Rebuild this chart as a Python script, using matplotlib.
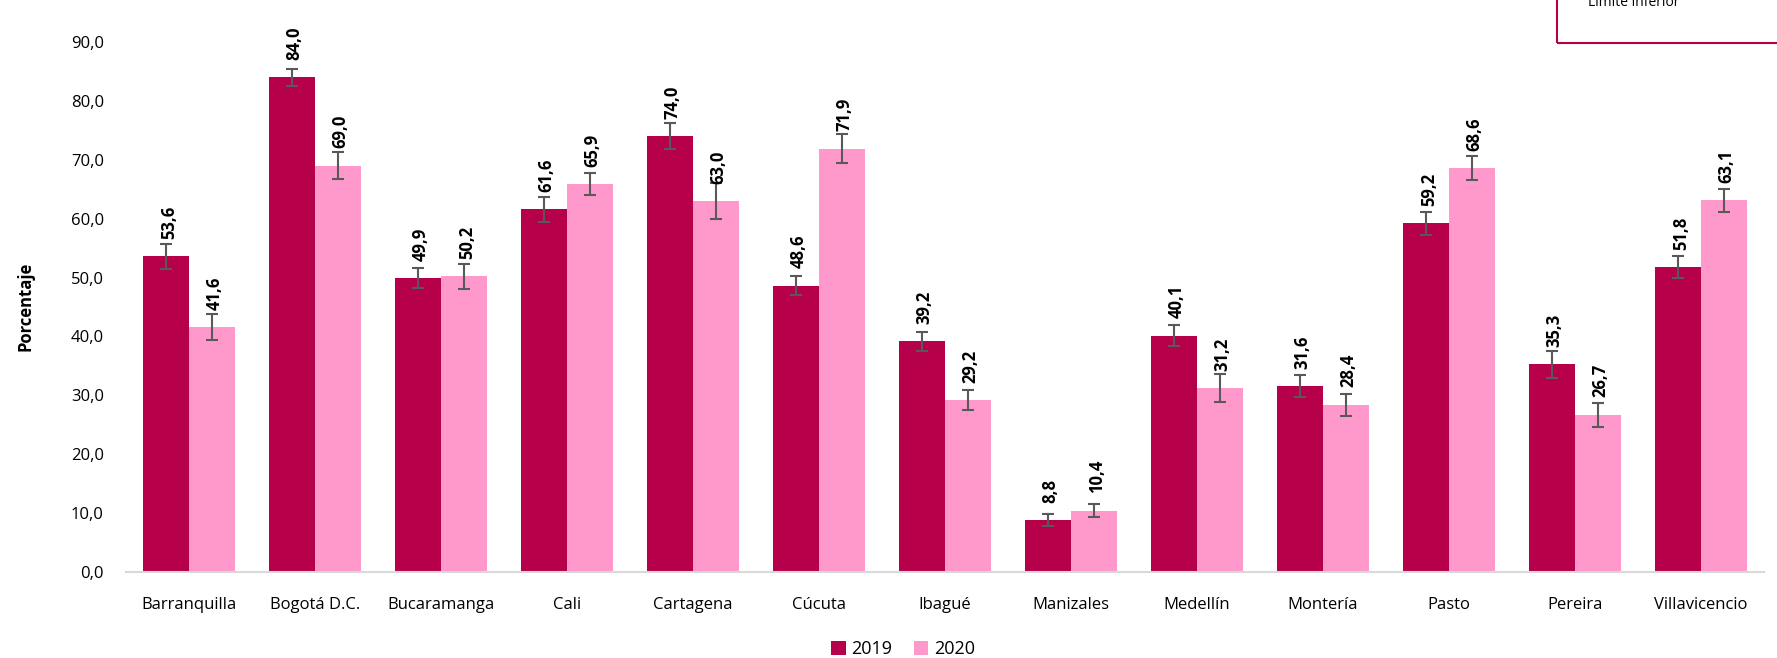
import numpy as np
import matplotlib
matplotlib.use("Agg")
import matplotlib.pyplot as plt
from matplotlib.patches import Rectangle
from matplotlib.ticker import FuncFormatter

ciudades = ["Barranquilla", "Bogotá D.C.", "Bucaramanga", "Cali", "Cartagena", "Cúcuta",
            "Ibagué", "Manizales", "Medellín", "Montería", "Pasto", "Pereira", "Villavicencio"]
v2019 = [53.6, 84.0, 49.9, 61.6, 74.0, 48.6, 39.2, 8.8, 40.1, 31.6, 59.2, 35.3, 51.8]
v2020 = [41.6, 69.0, 50.2, 65.9, 63.0, 71.9, 29.2, 10.4, 31.2, 28.4, 68.6, 26.7, 63.1]
# half-width of the confidence interval
e2019 = [2.1, 1.4, 1.7, 2.1, 2.2, 1.6, 1.6, 1.0, 1.8, 1.8, 1.9, 2.3, 1.8]
e2020 = [2.2, 2.3, 2.1, 1.9, 3.0, 2.4, 1.7, 1.1, 2.4, 1.9, 2.1, 2.0, 2.0]

c2019 = "#b7004a"
c2020 = "#ff99cc"

plt.rcParams["font.family"] = ["Open Sans", "DejaVu Sans"]

fig = plt.figure(figsize=(17.77, 6.58), dpi=100)
ax = fig.add_axes([126 / 1777, 1 - 572 / 658, (1764 - 126) / 1777, (572 - 42) / 658])

x = np.arange(len(ciudades))
w = 0.365
err_kw = dict(ecolor="#595959", elinewidth=1.5, capsize=4, capthick=1.5)
b1 = ax.bar(x - w / 2, v2019, w, color=c2019, yerr=e2019, error_kw=err_kw, label="2019")
b2 = ax.bar(x + w / 2, v2020, w, color=c2020, yerr=e2020, error_kw=err_kw, label="2020")

fmt = lambda v: f"{v:.1f}".replace(".", ",")
for xs, vals in [(x - w / 2, v2019), (x + w / 2, v2020)]:
    for xi, v in zip(xs, vals):
        ax.annotate(fmt(v), (xi, v), xytext=(2, 12.5), textcoords="offset points",
                    rotation=90, ha="center", va="bottom", fontsize=12,
                    fontweight="bold", color="black")

ax.set_ylim(0, 90)
ax.set_xlim(-0.5, len(ciudades) - 0.5)
ax.set_yticks(np.arange(0, 91, 10))
ax.yaxis.set_major_formatter(FuncFormatter(lambda v, p: fmt(v)))
ax.set_xticks(x)
ax.set_xticklabels(ciudades)
ax.tick_params(axis="both", length=0, labelsize=12, colors="black")
ax.tick_params(axis="x", pad=18)
ax.tick_params(axis="y", pad=16)
for s in ["top", "right", "left"]:
    ax.spines[s].set_visible(False)
ax.spines["bottom"].set_color("#d9d9d9")
ax.spines["bottom"].set_linewidth(1.5)

fig.text(25 / 1777, 1 - 306 / 658, "Porcentaje", rotation=90, ha="center", va="center",
         fontsize=12, fontweight="bold")

fig.legend(handles=[b1, b2], labels=["2019", "2020"], loc="center",
           bbox_to_anchor=(903 / 1777, 1 - 649 / 658), ncol=2, frameon=False,
           fontsize=13, handlelength=0.8, handleheight=0.8, handletextpad=0.3,
           columnspacing=1.2)

# partially visible box at the top right
fig.patches.append(Rectangle((1557 / 1777, 1 - 43 / 658), 0.2, 0.1, transform=fig.transFigure,
                             fill=False, edgecolor=c2019, linewidth=1.5))
fig.text(1588 / 1777, 1 - 6 / 658, "Límite inferior", ha="left", va="baseline", fontsize=10)

fig.savefig("out.png", dpi=100)
